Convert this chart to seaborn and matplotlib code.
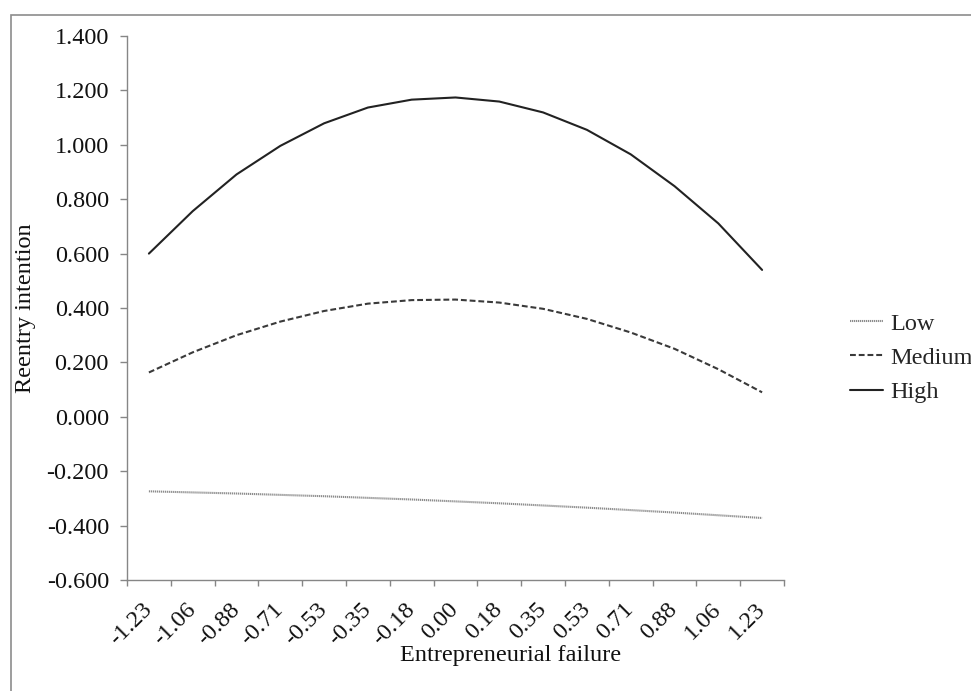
import matplotlib
matplotlib.use("Agg")
import matplotlib.pyplot as plt
from matplotlib.patches import Rectangle
import seaborn as sns
import pandas as pd

categories = ["-1.23", "-1.06", "-0.88", "-0.71", "-0.53", "-0.35", "-0.18", "0.00",
              "0.18", "0.35", "0.53", "0.71", "0.88", "1.06", "1.23"]
low = [-0.274, -0.278, -0.282, -0.287, -0.292, -0.298, -0.304, -0.311,
       -0.318, -0.326, -0.334, -0.343, -0.352, -0.362, -0.372]
medium = [0.163, 0.237, 0.300, 0.350, 0.389, 0.416, 0.429, 0.431,
          0.420, 0.397, 0.360, 0.310, 0.250, 0.175, 0.090]
high = [0.600, 0.756, 0.891, 0.996, 1.079, 1.137, 1.166, 1.174,
        1.159, 1.119, 1.055, 0.965, 0.848, 0.711, 0.540]
levels = ["Low", "Medium", "High"]
y_ticks = [-0.6, -0.4, -0.2, 0.0, 0.2, 0.4, 0.6, 0.8, 1.0, 1.2, 1.4]

rows = []
for lvl, vals in zip(levels, [low, medium, high]):
    for c, v in zip(categories, vals):
        rows.append({"Entrepreneurial failure": c, "Reentry intention": v, "Level": lvl})
df = pd.DataFrame(rows)

sns.set_theme(style="white")
plt.rcParams["font.family"] = ["Liberation Serif", "DejaVu Serif"]

FS = 17.5
W, H = 971, 691
fig = plt.figure(figsize=(W / 100, H / 100), dpi=100)
ax = fig.add_axes([127 / W, 1 - 580 / H, (784 - 127) / W, (580 - 36) / H])

palette = {"Low": "#8c8c8c", "Medium": "#3a3a3a", "High": "#222222"}
dashes = {"Low": (0.6, 0.35), "Medium": (2.8, 1.4), "High": ""}
sns.lineplot(data=df, x="Entrepreneurial failure", y="Reentry intention",
             hue="Level", style="Level", hue_order=levels, style_order=levels,
             palette=palette, dashes=dashes, linewidth=1.5, ax=ax, sort=False)

ax.set_xlim(-0.5, len(categories) - 0.5)
ax.set_ylim(-0.6, 1.4)
ax.set_yticks(y_ticks)
ax.set_yticklabels([f"{t:.3f}" for t in y_ticks])
ax.set_xticks(range(len(categories)))
ax.set_xticklabels(categories, rotation=45, ha="right", va="center", rotation_mode="anchor")
ax.set_xticks([i - 0.5 for i in range(len(categories) + 1)], minor=True)

for s in ["top", "right"]:
    ax.spines[s].set_visible(False)
for s in ["left", "bottom"]:
    ax.spines[s].set_color("#868686")
    ax.spines[s].set_linewidth(1.0)

ax.tick_params(axis="x", which="major", length=0, labelsize=FS, pad=19, colors="#111111")
ax.tick_params(axis="x", which="minor", length=4.5, width=1.0, color="#868686",
               direction="out", bottom=True)
ax.tick_params(axis="y", which="major", length=5, width=1.0, color="#868686", direction="out",
               labelsize=FS, labelcolor="#111111", left=True, pad=8)

ax.set_xlabel("Entrepreneurial failure", fontsize=FS, color="#111111", va="center")
ax.xaxis.set_label_coords((511 - 127) / 657, (580 - 656) / 544)
ax.set_ylabel("Reentry intention", fontsize=FS, color="#111111", va="center")
ax.yaxis.set_label_coords((26 - 127) / 657, 0.5)

ax.legend(loc="center left", bbox_to_anchor=(850 / W, 1 - 358 / H),
          bbox_transform=fig.transFigure, frameon=False, fontsize=FS,
          handlelength=1.36, handletextpad=0.3, labelspacing=0.5,
          borderaxespad=0, borderpad=0)

fig.patches.append(Rectangle((11 / W, -0.05), 2.0, 1 - 15 / H + 0.05,
                             transform=fig.transFigure, fill=False,
                             edgecolor="#8c8c8c", linewidth=1.2))

fig.savefig("out.png", dpi=100)
